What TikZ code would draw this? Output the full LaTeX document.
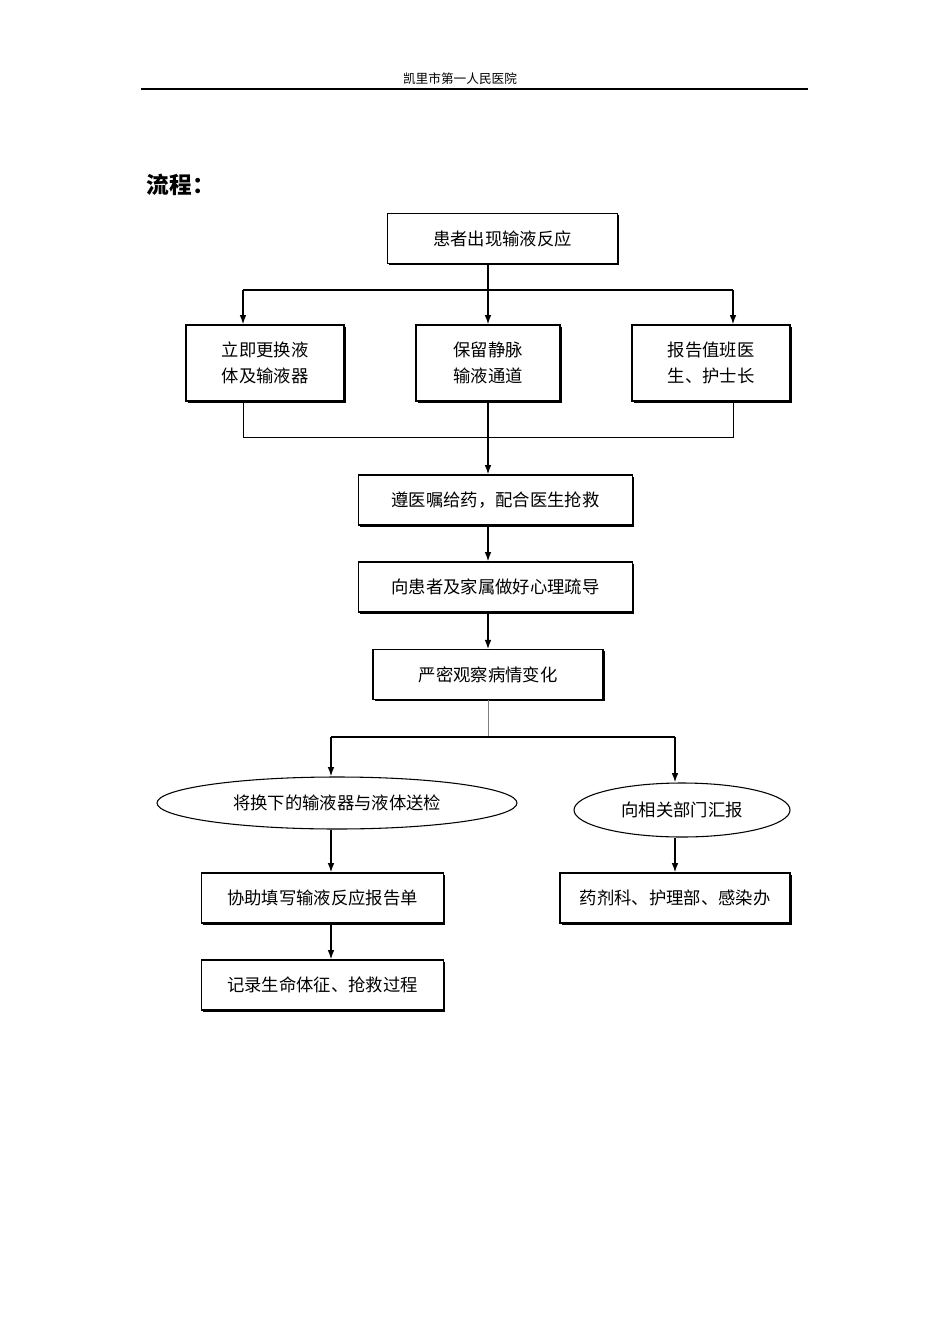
\documentclass[tikz,border=0pt]{standalone}
\usepackage{fontspec}
\setmainfont{Noto Sans CJK SC}
\usetikzlibrary{shapes.geometric,shadows,arrows.meta}
\begin{document}
\begin{tikzpicture}[x=0.75pt,y=-0.75pt,
  box/.style={draw,line width=0.8pt,fill=white,minimum height=37.5pt,inner sep=0pt,align=center,
    font=\fontsize{13}{20}\selectfont,
    drop shadow={shadow xshift=1.2pt,shadow yshift=-1.2pt,fill=black,opacity=1}},
  ell/.style={draw,ellipse,line width=0.8pt,fill=white,inner sep=0pt,font=\fontsize{13}{20}\selectfont},
  arr/.style={line width=1.2pt,-{Latex[length=7pt,width=5pt]}},
  ln/.style={line width=1.2pt}]
\useasboundingbox (0,0) rectangle (950,1344);
\node (hdr) at (460,79) {\fontsize{9.5}{11}\selectfont 凯里市第一人民医院};
\coordinate (hl) at (141,89); \coordinate (hr) at (808,89);
\draw[line width=0.8pt] (hl) -- (hr);
\node[anchor=west,font=\fontsize{17}{20}\selectfont\bfseries] (ttl) at (142,185) {流程：};

\node[box,minimum width=172pt,minimum height=37pt] (a) at (502.5,238.5) {患者出现输液反应};
\node[box,minimum width=118.5pt,minimum height=57pt] (b1) at (265,363) {立即更换液\\体及输液器};
\node[box,minimum width=108pt,minimum height=57pt] (b2) at (488,363) {保留静脉\\输液通道};
\node[box,minimum width=118.5pt,minimum height=57pt] (b3) at (711,363) {报告值班医\\生、护士长};
\node[box,minimum width=205pt] (c) at (495.5,500) {遵医嘱给药，配合医生抢救};
\node[box,minimum width=205pt] (d) at (495.5,587) {向患者及家属做好心理疏导};
\node[box,minimum width=172.5pt,minimum height=37pt] (e) at (488,674.5) {严密观察病情变化};
\node[ell,minimum width=270pt,minimum height=39pt] (f1) at (337,803) {将换下的输液器与液体送检};
\node[ell,minimum width=162pt,minimum height=40.5pt] (f2) at (682,810) {向相关部门汇报};
\node[box,minimum width=182pt] (g1) at (322.5,898) {协助填写输液反应报告单};
\node[box,minimum width=172.5pt] (g2) at (675,898) {药剂科、护理部、感染办};
\node[box,minimum width=182pt] (h1) at (322.5,985) {记录生命体征、抢救过程};

\coordinate (s1) at (243,290); \coordinate (s3) at (733,290);
\draw[ln] (s1) -- (s3);
\draw[arr] (a.south -| b2) -- (b2.north);
\draw[arr] (s1) -- (b1.north -| s1);
\draw[arr] (s3) -- (b3.north -| s3);
\coordinate (m1) at (243,437); \coordinate (m3) at (733,437);
\draw[line width=0.6pt] (b1.south -| m1) -- (m1) -- (m3) -- (b3.south -| m3);
\draw[arr] (b2.south) -- (c.north -| b2);
\draw[arr] (c.south -| b2) -- (d.north -| b2);
\draw[arr] (d.south -| b2) -- (e.north);
\coordinate (j) at (488,737); \coordinate (jl) at (331,737); \coordinate (jr) at (675,737);
\draw[line width=0.6pt,gray] (e.south) -- (j);
\draw[ln] (jl) -- (jr);
\draw[arr] (jl) -- (f1.north -| jl);
\draw[arr] (jr) -- (f2.north -| jr);
\draw[arr] (f1.south -| jl) -- (g1.north -| jl);
\draw[arr] (f2.south -| jr) -- (g2.north -| jr);
\draw[arr] (g1.south -| jl) -- (h1.north -| jl);
\end{tikzpicture}
\end{document}
